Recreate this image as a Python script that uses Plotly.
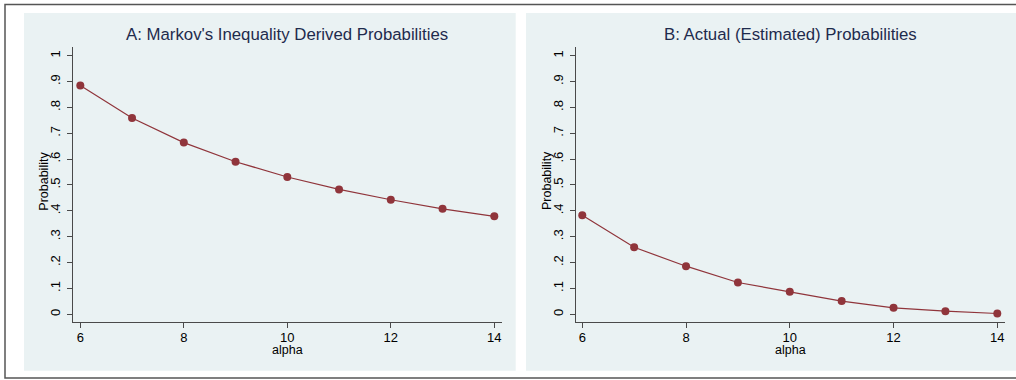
import plotly.graph_objects as go
from plotly.subplots import make_subplots

alpha = [6, 7, 8, 9, 10, 11, 12, 13, 14]
markov_prob = [0.885, 0.759, 0.664, 0.590, 0.531, 0.483, 0.443, 0.408, 0.379]
actual_prob = [0.383, 0.259, 0.186, 0.123, 0.087, 0.051, 0.025, 0.012, 0.003]
titles = ["A: Markov's Inequality Derived Probabilities", "B: Actual (Estimated) Probabilities"]
y_tickvals = [0, 0.1, 0.2, 0.3, 0.4, 0.5, 0.6, 0.7, 0.8, 0.9, 1.0]
y_ticktext = ["0", ".1", ".2", ".3", ".4", ".5", ".6", ".7", ".8", ".9", "1"]
x_tickvals = [6, 8, 10, 12, 14]

W, H = 1016, 380
FONT = "Liberation Sans, Arial, Helvetica, sans-serif"
BG = "#eaf2f3"
RED = "#90353b"
AXC = "#4a4a4a"
TITLEC = "#1e2b4d"

def px(x):
    return x / W

def py(y):
    return 1 - y / H

fig = make_subplots(rows=1, cols=2)

for i, ys in enumerate([markov_prob, actual_prob]):
    fig.add_trace(go.Scatter(x=alpha, y=ys, mode="lines+markers",
                             line=dict(color=RED, width=1.2),
                             marker=dict(color=RED, size=8),
                             showlegend=False, hoverinfo="x+y"), row=1, col=i + 1)

plot_x = [(72.7, 502.0), (576.0, 1004.5)]
x_ranges = [[5.853, 14.149], [5.879, 14.139]]
ytop, ybot = 46.8, 322.0
y_range = [-0.0298, 1.0344]

axis_common = dict(showline=True, linecolor=AXC, linewidth=1, ticks="outside",
                   ticklen=5, tickcolor=AXC, tickwidth=1,
                   tickfont=dict(family=FONT, size=13, color="black"))

for i in range(2):
    xn = "xaxis" if i == 0 else "xaxis2"
    yn = "yaxis" if i == 0 else "yaxis2"
    fig.layout[xn].update(domain=[px(plot_x[i][0]), px(plot_x[i][1])],
                          range=x_ranges[i], tickvals=x_tickvals,
                          showgrid=False, zeroline=False,
                          ticklabelstandoff=-2, **axis_common)
    fig.layout[yn].update(domain=[py(ybot), py(ytop)], range=y_range,
                          tickvals=y_tickvals, ticktext=y_ticktext, tickangle=-90,
                          showgrid=True, gridcolor=BG, gridwidth=1,
                          zeroline=False, ticklabelstandoff=2, **axis_common)

shapes = []
# panel backgrounds
shapes.append(dict(type="rect", xref="paper", yref="paper", layer="below",
                   x0=px(24), x1=px(515.7), y0=py(370.7), y1=py(13),
                   fillcolor=BG, line=dict(width=0)))
shapes.append(dict(type="rect", xref="paper", yref="paper", layer="below",
                   x0=px(526), x1=px(1020), y0=py(370.7), y1=py(13),
                   fillcolor=BG, line=dict(width=0)))
# outer frame
shapes.append(dict(type="rect", xref="paper", yref="paper", layer="above",
                   x0=px(5), x1=px(1025), y0=py(378), y1=py(4.5),
                   fillcolor="rgba(0,0,0,0)", line=dict(color="#555555", width=1.5)))

annotations = []
for i in range(2):
    cx = (plot_x[i][0] + plot_x[i][1]) / 2
    annotations.append(dict(text=titles[i], x=px(cx), y=py(34.5), xref="paper", yref="paper",
                            xanchor="center", yanchor="middle", showarrow=False,
                            font=dict(family=FONT, size=16.8, color=TITLEC)))
    annotations.append(dict(text="alpha", x=px(cx), y=py(350), xref="paper", yref="paper",
                            xanchor="center", yanchor="middle", showarrow=False,
                            font=dict(family=FONT, size=12.5, color="black")))
    annotations.append(dict(text="Probability", x=px(plot_x[i][0] - 29), y=py(181),
                            xref="paper", yref="paper", textangle=-90,
                            xanchor="center", yanchor="middle", showarrow=False,
                            font=dict(family=FONT, size=12.5, color="black")))

fig.update_layout(width=W, height=H, margin=dict(l=0, r=0, t=0, b=0),
                  paper_bgcolor="white", plot_bgcolor="white",
                  shapes=shapes, annotations=annotations,
                  font=dict(family=FONT))

fig.write_html("out.html")
